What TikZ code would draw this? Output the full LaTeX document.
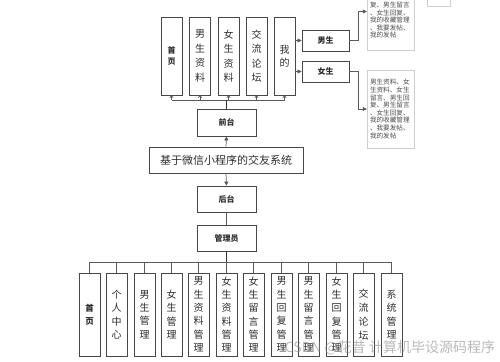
\documentclass[tikz,border=0pt]{standalone}
\usepackage{fontspec}
\setmainfont{Noto Sans CJK SC}
\usetikzlibrary{arrows.meta,shadows}
\definecolor{edgegray}{HTML}{474747}
\definecolor{wiregray}{HTML}{5A5A5A}
\definecolor{notegray}{HTML}{CFCFCF}
\definecolor{inkgray}{HTML}{2E2E2E}

\begin{document}
\begin{tikzpicture}[
  x=1pt, y=-1pt,
  every node/.style={inner sep=0pt, text=inkgray},
  tallbox/.style={draw=edgegray, line width=0.8pt, fill=white, minimum width=21pt,
    minimum height=78pt, align=center, font=\fontsize{10}{14.5}\selectfont},
  lowbox/.style={tallbox, minimum height=83pt, font=\fontsize{10}{13.3}\selectfont},
  flatbox/.style={draw=edgegray, line width=0.8pt, fill=white, minimum width=59pt,
    minimum height=26pt, font=\fontsize{8}{9}\selectfont\bfseries},
  rolebox/.style={flatbox, minimum width=47pt, minimum height=21pt},
  titlebox/.style={draw=edgegray, line width=0.8pt, fill=white, minimum width=154pt,
    minimum height=26pt, font=\fontsize{11}{13}\selectfont},
  notebox/.style={draw=notegray, fill=white, minimum width=47pt, minimum height=78pt,
    text width=41pt, align=left, font=\fontsize{6.6}{7.6}\selectfont, text=black!70,
    drop shadow={opacity=0.18, shadow xshift=1pt, shadow yshift=-1pt}},
  wire/.style={draw=wiregray, line width=0.7pt},
  trunk/.style={draw=black!80, line width=1.5pt},
  tip/.style={-{Triangle[length=4pt,width=4pt]}},
  smalltip/.style={-{Straight Barb[length=1.8pt,width=3.5pt]}}
]
\useasboundingbox (0,0) rectangle (500,361);
\clip (0,0) rectangle (500,361);

% ---- front end: top row ----
\node[tallbox, font=\fontsize{8}{11}\selectfont\bfseries] (home) at (171.5,56) {首\\页};
\node[tallbox] (boyinfo)  at (200,56)   {男\\生\\资\\料};
\node[tallbox] (girlinfo) at (228.5,56) {女\\生\\资\\料};
\node[tallbox] (forum)    at (256.5,56) {交\\流\\论\\坛};
\node[tallbox, font=\fontsize{10}{13}\selectfont] (mine) at (284.5,56) {我\\的};

% ---- roles and their rights ----
\node[rolebox] (boy)  at (325.5,40.5) {男生};
\node[rolebox] (girl) at (325.5,71.5) {女生};
% upper box runs past the top edge: only its last lines show
\node[notebox] (boyrights) at (390.5,11.5)
  {\mbox{}\\\mbox{}\\\mbox{}\\复、男生留言\\、女生回复、\\我的收藏管理\\、我要发帖、\\我的发帖};
\node[notebox] (girlrights) at (390.5,109)
  {男生资料、女\\生资料、女生\\留言、男生回\\复、男生留言\\、女生回复、\\我的收藏管理\\、我要发帖、\\我的发帖};
\node[draw=notegray, minimum width=23pt, minimum height=10pt] (corner) at (438.5,1) {};

% ---- middle column ----
\node[flatbox, minimum height=27pt] (front) at (226.5,122.5) {前台};
\node[titlebox] (title) at (226,160) {基于微信小程序的交友系统};
\node[flatbox] (back)  at (226.5,199) {后台};
\node[flatbox] (admin) at (226.5,238) {管理员};

% ---- back end: bottom row ----
\node[lowbox, font=\fontsize{8.5}{13}\selectfont\bfseries] (bhome) at (89.5,314.5) {首\\页};
\node[lowbox] (bself)      at (116.5,314.5) {个\\人\\中\\心};
\node[lowbox] (bboys)      at (144.5,314.5) {男\\生\\管\\理};
\node[lowbox] (bgirls)     at (171.5,314.5) {女\\生\\管\\理};
\node[lowbox] (bboyinfo)   at (198.5,314.5) {男\\生\\资\\料\\管\\理};
\node[lowbox] (bgirlinfo)  at (226.5,314.5) {女\\生\\资\\料\\管\\理};
\node[lowbox] (bgirlmsg)   at (253.5,314.5) {女\\生\\留\\言\\管\\理};
\node[lowbox] (bboyreply)  at (281.5,314.5) {男\\生\\回\\复\\管\\理};
\node[lowbox] (bboymsg)    at (308.5,314.5) {男\\生\\留\\言\\管\\理};
\node[lowbox] (bgirlreply) at (336.5,314.5) {女\\生\\回\\复\\管\\理};
\node[lowbox, font=\fontsize{10}{14}\selectfont] (bforum) at (363.5,314.5) {交\\流\\论\\坛};
\node[lowbox] (bsystem)    at (391.5,314.5) {系\\统\\管\\理};

% ---- top bus ----
\coordinate (topbus) at (171.5,100);
\draw[wire] (home.south |- topbus) -- (mine.south |- topbus);
\draw[wire, smalltip] (home.south |- topbus) -- (home.south);
\draw[wire, smalltip] (boyinfo.south |- topbus) -- (boyinfo.south);
\draw[wire, smalltip] (girlinfo.south |- topbus) -- (girlinfo.south);
\draw[wire, smalltip] (forum.south |- topbus) -- (forum.south);
\draw[wire, smalltip] (mine.south |- topbus) -- (mine.south);
\draw[trunk] (front.north) -- (front.north |- topbus);

% ---- roles ----
\draw[wire, tip] (mine.east |- boy.west) -- (boy.west);
\draw[wire, tip] (mine.east |- girl.west) -- (girl.west);
\draw[wire, tip] (boy.east) -- ++(9,0) |- (boyrights.west);
\draw[wire, tip] (girl.east) -- ++(9,0) |- (girlrights.west);

% ---- middle column ----
\draw[wire, tip] (title.north) -- (front.south);
\draw[wire, tip] (title.south) -- (back.north);
\draw[wire] (back.south) -- (admin.north);

% ---- bottom bus ----
\coordinate (botbus) at (89.5,262);
\draw[trunk] (admin.south) -- (admin.south |- botbus);
\draw[wire] (bhome.north |- botbus) -- (bsystem.north |- botbus);
\draw[wire] (bhome.north |- botbus) -- (bhome.north);
\draw[wire] (bself.north |- botbus) -- (bself.north);
\draw[wire] (bboys.north |- botbus) -- (bboys.north);
\draw[wire] (bgirls.north |- botbus) -- (bgirls.north);
\draw[wire] (bboyinfo.north |- botbus) -- (bboyinfo.north);
\draw[wire] (bgirlinfo.north |- botbus) -- (bgirlinfo.north);
\draw[wire] (bgirlmsg.north |- botbus) -- (bgirlmsg.north);
\draw[wire] (bboyreply.north |- botbus) -- (bboyreply.north);
\draw[wire] (bboymsg.north |- botbus) -- (bboymsg.north);
\draw[wire] (bgirlreply.north |- botbus) -- (bgirlreply.north);
\draw[wire] (bforum.north |- botbus) -- (bforum.north);
\draw[wire] (bsystem.north |- botbus) -- (bsystem.north);

% ---- watermark ----
\node[text=gray, opacity=0.55, font=\fontsize{14}{16}\selectfont] (mark) at (390,348) {CSDN @花昔 计算机毕设源码程序};

\end{tikzpicture}
\end{document}
